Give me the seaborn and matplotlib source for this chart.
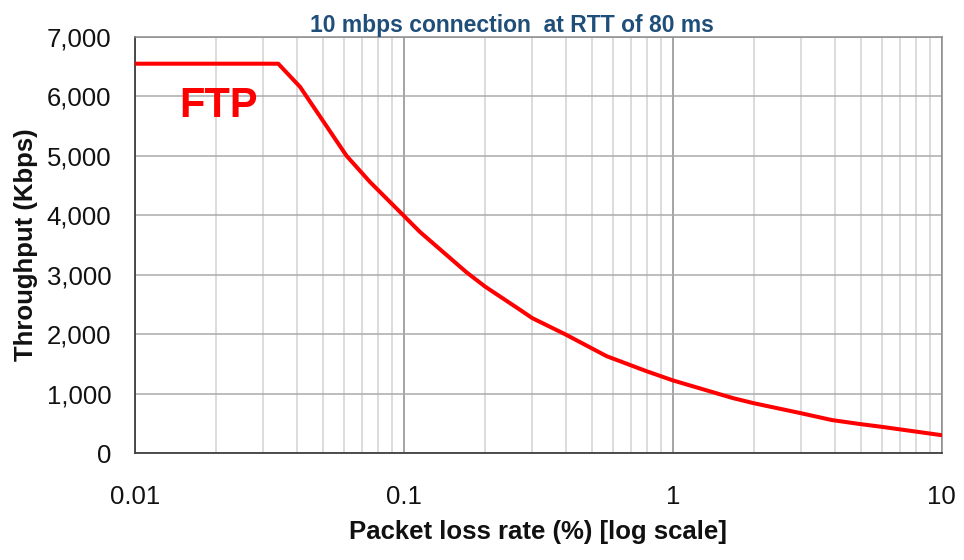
import numpy as np
import pandas as pd
import matplotlib
matplotlib.use("Agg")
import matplotlib.pyplot as plt
import seaborn as sns
from matplotlib.ticker import FuncFormatter, LogLocator, FixedLocator

# data
loss_pct = [0.01, 0.0341, 0.0411, 0.0612, 0.0748, 0.1, 0.1147, 0.171,
            0.2, 0.27, 0.3, 0.397, 0.567, 0.798, 1.0, 1.67, 1.99, 2.96,
            3.9, 4.96, 6.0, 10.0]
throughput = [6550, 6550, 6160, 5000, 4560, 3990, 3720, 3040,
              2803, 2411, 2270, 2000, 1630, 1377, 1222, 925, 840, 675,
              555, 488, 440, 300]
x_ticks = [0.01, 0.1, 1, 10]
x_tick_labels = ["0.01", "0.1", "1", "10"]
y_ticks = [0, 1000, 2000, 3000, 4000, 5000, 6000, 7000]

df = pd.DataFrame({"loss": loss_pct, "kbps": throughput})

sns.set_theme(style="white")
plt.rcParams['font.family'] = ['Liberation Sans', 'DejaVu Sans']

fig = plt.figure(figsize=(9.64, 5.6), dpi=100)
ax = fig.add_axes([0.140, 0.191, 0.837, 0.743])

sns.lineplot(data=df, x="loss", y="kbps", ax=ax, color="#ff0000",
             linewidth=2.9, zorder=5)

ax.set_xscale("log")
ax.set_xlim(0.01, 10)
ax.set_ylim(0, 7000)

ax.xaxis.set_major_locator(FixedLocator(x_ticks))
ax.set_xticklabels(x_tick_labels)
ax.xaxis.set_minor_locator(LogLocator(base=10, subs=np.arange(2, 10)))
ax.xaxis.set_minor_formatter(FuncFormatter(lambda v, p: ""))
ax.set_yticks(y_ticks)
ax.yaxis.set_major_formatter(FuncFormatter(lambda v, p: f"{int(v):,}"))

# grid
ax.grid(which="major", axis="y", color="#ababab", linewidth=1.1)
ax.grid(which="major", axis="x", color="#8c8c8c", linewidth=1.1)
ax.grid(which="minor", axis="x", color="#d2d2d2", linewidth=1.1)
ax.set_axisbelow(True)

for side in ["left", "bottom"]:
    ax.spines[side].set_color("#404040")
    ax.spines[side].set_linewidth(1.3)
for side in ["top", "right"]:
    ax.spines[side].set_color("#8c8c8c")
    ax.spines[side].set_linewidth(1.1)

ax.tick_params(axis="both", which="major", direction="out", length=5,
               width=1.2, color="#404040", labelsize=18.5, labelcolor="#111111")
ax.tick_params(axis="x", which="major", pad=18)
ax.tick_params(axis="y", which="major", pad=12)
ax.tick_params(axis="x", which="minor", length=0)

ax.set_xlabel("Packet loss rate (%) [log scale]", fontsize=18.5,
              fontweight="bold", labelpad=8, color="#111111")
ax.set_ylabel("Throughput (Kbps)", fontsize=18.5, fontweight="bold",
              labelpad=6, color="#111111")

fig.text(0.531, 0.955, "10 mbps connection  at RTT of 80 ms", ha="center",
         va="center", fontsize=16.5, fontweight="bold", color="#1f4e79")

ax.text(0.0146, 5840, "FTP", color="#ff0000", fontsize=30,
        fontweight="bold", ha="left", va="center")

fig.savefig("out.png", dpi=100)
